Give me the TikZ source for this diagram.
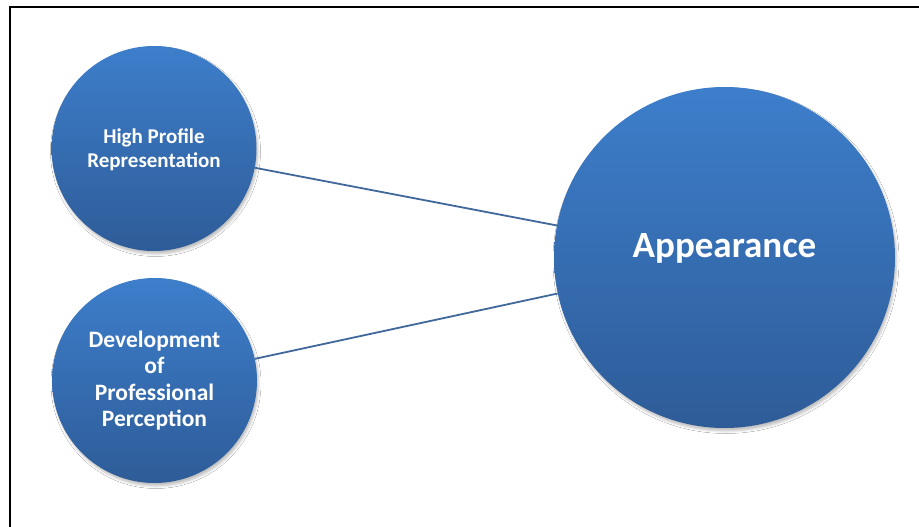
\documentclass[tikz,border=0pt]{standalone}
\usepackage{fontspec}
\setmainfont{Carlito}
\usetikzlibrary{shadows.blur}
\definecolor{ctop}{RGB}{61,126,203}
\definecolor{cbot}{RGB}{46,92,152}
\definecolor{linkc}{RGB}{64,104,155}
\tikzset{
  ball/.style={circle, inner sep=0pt, top color=ctop, bottom color=cbot, draw=none,
    blur shadow={shadow xshift=1.5pt, shadow yshift=-3pt, shadow blur radius=2.5pt, shadow opacity=25}},
  smallball/.style={ball, minimum size=205pt},
  bigball/.style={ball, minimum size=341pt},
  txt/.style={text=white, font=\bfseries, align=center},
  link/.style={draw=linkc, line width=1.8pt}
}
\begin{document}
\begin{tikzpicture}[x=1pt,y=-1pt]
\useasboundingbox[fill=white] (0,0) rectangle (919,527);
\draw[line width=2pt] (10,527) -- (10,7) -- (919,7);
\node[smallball] (hp) at (154,148.5) {};
\node[smallball] (dp) at (154.5,380.5) {};
\node[bigball] (ap) at (724.5,257.5) {};
\draw[link] (hp) -- (ap);
\draw[link] (dp) -- (ap);
\node[txt, font=\bfseries\fontsize{21}{24}\selectfont] (hpt) at (154,150) {High Profile\\Representation};
\node[txt, font=\bfseries\fontsize{23.5}{26.5}\selectfont] (dpt) at (154.5,380.5) {Development\\of\\Professional\\Perception};
\node[txt, font=\bfseries\fontsize{37}{40}\selectfont, anchor=base] (apt) at (724.5,257) {Appearance};
\end{tikzpicture}
\end{document}
